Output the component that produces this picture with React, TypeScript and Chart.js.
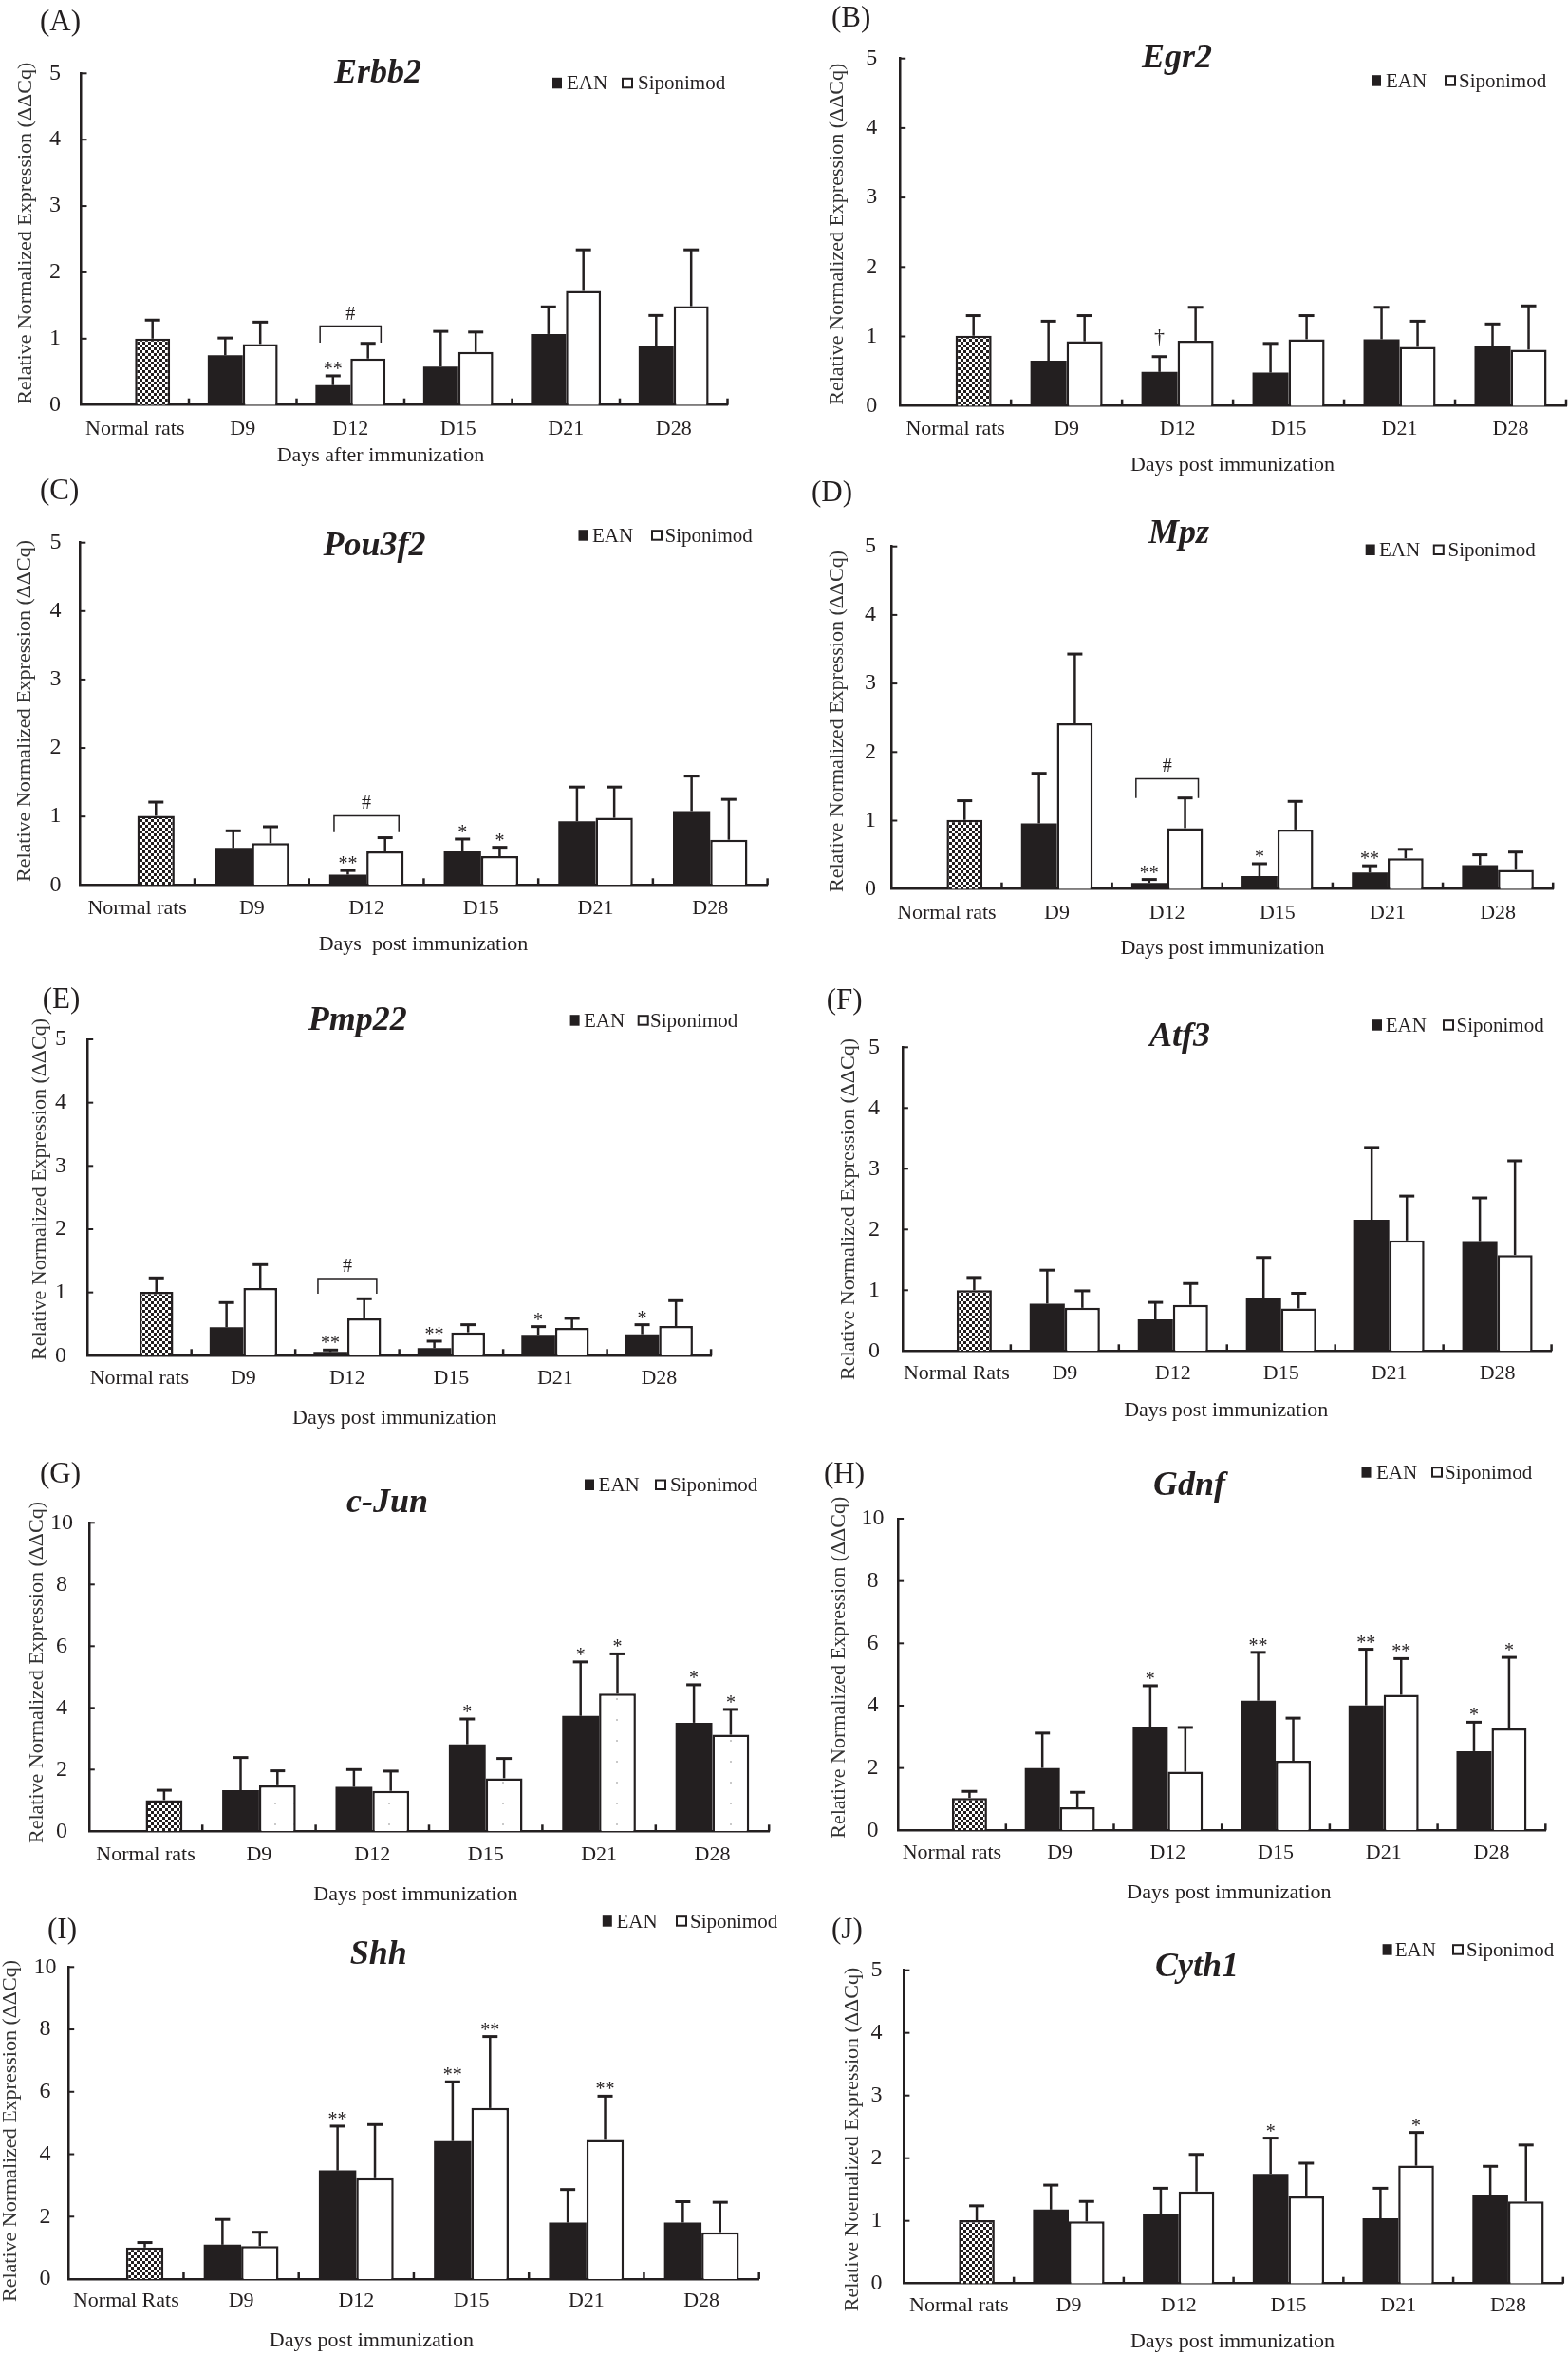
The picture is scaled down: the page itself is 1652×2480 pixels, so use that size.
import React, { useEffect, useRef } from 'react';
import { Chart, registerables } from 'chart.js';

Chart.register(...registerables);

const INK = '#231f20';
const SERIF = '"Liberation Serif", "Times New Roman", Times, serif';

const categories = ['Normal rats', 'D9', 'D12', 'D15', 'D21', 'D28'];
const categoriesRats = ['Normal Rats', 'D9', 'D12', 'D15', 'D21', 'D28'];
const seriesNames = ['EAN', 'Siponimod'];
const yTitleStd = 'Relative Normalized Expression (ΔΔCq)';
const yTitleJ = 'Relative Noemalized Expression (ΔΔCq)';

// (A) Erbb2
const erbb2Ean = [null, 0.75, 0.30, 0.58, 1.07, 0.89];
const erbb2EanSd = [null, 0.26, 0.14, 0.53, 0.41, 0.46];
const erbb2Sip = [1.00, 0.92, 0.70, 0.80, 1.72, 1.49];
const erbb2SipSd = [0.28, 0.33, 0.23, 0.30, 0.62, 0.85];
const erbb2EanSig = ['', '', '**', '', '', ''];
const erbb2SipSig = ['', '', '', '', '', ''];

// (B) Egr2
const egr2Ean = [null, 0.65, 0.49, 0.48, 0.96, 0.87];
const egr2EanSd = [null, 0.57, 0.22, 0.42, 0.46, 0.31];
const egr2Sip = [1.01, 0.93, 0.94, 0.96, 0.85, 0.81];
const egr2SipSd = [0.29, 0.37, 0.48, 0.34, 0.37, 0.63];
const egr2EanSig = ['', '', '†', '', '', ''];
const egr2SipSig = ['', '', '', '', '', ''];

// (C) Pou3f2
const pou3f2Ean = [null, 0.54, 0.15, 0.49, 0.93, 1.08];
const pou3f2EanSd = [null, 0.25, 0.06, 0.18, 0.50, 0.51];
const pou3f2Sip = [1.01, 0.61, 0.49, 0.42, 0.98, 0.66];
const pou3f2SipSd = [0.20, 0.24, 0.20, 0.13, 0.45, 0.59];
const pou3f2EanSig = ['', '', '**', '*', '', ''];
const pou3f2SipSig = ['', '', '', '*', '', ''];

// (D) Mpz
const mpzEan = [null, 0.96, 0.09, 0.19, 0.24, 0.35];
const mpzEanSd = [null, 0.73, 0.05, 0.18, 0.10, 0.15];
const mpzSip = [1.01, 2.42, 0.89, 0.87, 0.45, 0.28];
const mpzSipSd = [0.28, 1.01, 0.44, 0.41, 0.13, 0.26];
const mpzEanSig = ['', '', '**', '*', '**', ''];
const mpzSipSig = ['', '', '', '', '', ''];

// (E) Pmp22
const pmp22Ean = [null, 0.45, 0.06, 0.12, 0.33, 0.34];
const pmp22EanSd = [null, 0.39, 0.03, 0.11, 0.13, 0.15];
const pmp22Sip = [1.01, 1.07, 0.59, 0.37, 0.44, 0.47];
const pmp22SipSd = [0.22, 0.37, 0.31, 0.12, 0.15, 0.40];
const pmp22EanSig = ['', '', '**', '**', '*', '*'];
const pmp22SipSig = ['', '', '', '', '', ''];

// (F) Atf3
const atf3Ean = [null, 0.78, 0.52, 0.87, 2.16, 1.81];
const atf3EanSd = [null, 0.55, 0.28, 0.67, 1.19, 0.71];
const atf3Sip = [1.00, 0.71, 0.76, 0.70, 1.82, 1.58];
const atf3SipSd = [0.21, 0.28, 0.35, 0.25, 0.73, 1.55];
const atf3EanSig = ['', '', '', '', '', ''];
const atf3SipSig = ['', '', '', '', '', ''];

// (G) c-Jun
const cjunEan = [null, 1.33, 1.44, 2.82, 3.74, 3.52];
const cjunEanSd = [null, 1.06, 0.56, 0.82, 1.75, 1.23];
const cjunSip = [1.01, 1.49, 1.31, 1.72, 4.46, 3.13];
const cjunSipSd = [0.32, 0.47, 0.64, 0.64, 1.29, 0.82];
const cjunEanSig = ['', '', '', '*', '*', '*'];
const cjunSipSig = ['', '', '', '', '*', '*'];

// (H) Gdnf
const gdnfEan = [null, 2.00, 3.33, 4.16, 4.01, 2.54];
const gdnfEanSd = [null, 1.12, 1.31, 1.55, 1.80, 0.93];
const gdnfSip = [1.04, 0.74, 1.88, 2.23, 4.35, 3.27];
const gdnfSipSd = [0.21, 0.48, 1.42, 1.37, 1.16, 2.28];
const gdnfEanSig = ['', '', '*', '**', '**', '*'];
const gdnfSipSig = ['', '', '', '', '**', '*'];

// (I) Shh
const shhEan = [null, 1.10, 3.48, 4.42, 1.81, 1.81];
const shhEanSd = [null, 0.81, 1.42, 1.90, 1.06, 0.67];
const shhSip = [1.01, 1.06, 3.23, 5.48, 4.46, 1.50];
const shhSipSd = [0.16, 0.44, 1.72, 2.29, 1.40, 0.96];
const shhEanSig = ['', '', '**', '**', '', ''];
const shhSipSig = ['', '', '', '**', '**', ''];

// (J) Cyth1
const cyth1Ean = [null, 1.18, 1.11, 1.75, 1.04, 1.41];
const cyth1EanSd = [null, 0.39, 0.41, 0.57, 0.48, 0.46];
const cyth1Sip = [1.01, 0.99, 1.47, 1.39, 1.88, 1.31];
const cyth1SipSd = [0.23, 0.32, 0.59, 0.53, 0.53, 0.90];
const cyth1EanSig = ['', '', '', '*', '', ''];
const cyth1SipSig = ['', '', '', '', '*', ''];

// "#" brackets between EAN and Siponimod (category index, bracket line value, leg end value)
const erbb2Bracket = { cat: 2, line: 1.19, leg: 0.94, text: '#' };
const pou3f2Bracket = { cat: 2, line: 1.01, leg: 0.77, text: '#' };
const mpzBracket = { cat: 2, line: 1.61, leg: 1.33, text: '#' };
const pmp22Bracket = { cat: 2, line: 1.22, leg: 0.98, text: '#' };

type Bracket = { cat: number; line: number; leg: number; text: string };
type PanelSpec = {
  label: string; gene: string; cats: string[];
  ean: (number | null)[]; eanSd: (number | null)[]; sip: number[]; sipSd: number[];
  eanSig: string[]; sipSig: string[]; bracket?: Bracket;
  ymax: number; step: number; yTitle: string; xTitle: string; dotted?: boolean;
  box: number[]; axisX: number; right: number; top: number; zero: number;
  labelPos: number[]; titlePos: number[]; leg: number[]; legY: number;
  xTickY: number; xTitlePos: number[]; yTitlePos: number[]; tickOff: number;
};

const panels: PanelSpec[] = [
  {
    label: '(A)', gene: 'Erbb2', cats: categories, ean: erbb2Ean, eanSd: erbb2EanSd, sip: erbb2Sip, sipSd: erbb2SipSd,
    eanSig: erbb2EanSig, sipSig: erbb2SipSig, bracket: erbb2Bracket, ymax: 5, step: 1, yTitle: yTitleStd,
    xTitle: 'Days after immunization',
    box: [0, 0, 826, 494], axisX: 85.5, right: 766.5, top: 77.3, zero: 426.7,
    labelPos: [42, 31.7], titlePos: [398, 86.7], leg: [582, 597, 655, 672], legY: 94.3,
    xTickY: 459.3, xTitlePos: [401, 486], yTitlePos: [27.5, 245.8], tickOff: 27.4,
  },
  {
    label: '(B)', gene: 'Egr2', cats: categories, ean: egr2Ean, eanSd: egr2EanSd, sip: egr2Sip, sipSd: egr2SipSd,
    eanSig: egr2EanSig, sipSig: egr2SipSig, ymax: 5, step: 1, yTitle: yTitleStd,
    xTitle: 'Days post immunization',
    box: [826, 0, 826, 503], axisX: 948.2, right: 1650, top: 61.7, zero: 427.7,
    labelPos: [876, 28.3], titlePos: [1240, 70.7], leg: [1445, 1460, 1522, 1537], legY: 91.7,
    xTickY: 460, xTitlePos: [1298.5, 496], yTitlePos: [882.4, 246.7], tickOff: 30,
  },
  {
    label: '(C)', gene: 'Pou3f2', cats: categories, ean: pou3f2Ean, eanSd: pou3f2EanSd, sip: pou3f2Sip, sipSd: pou3f2SipSd,
    eanSig: pou3f2EanSig, sipSig: pou3f2SipSig, bracket: pou3f2Bracket, ymax: 5, step: 1, yTitle: yTitleStd,
    xTitle: 'Days  post immunization',
    box: [0, 494, 826, 526], axisX: 84.3, right: 808.6, top: 571.7, zero: 932.3,
    labelPos: [42, 526], titlePos: [394.6, 585], leg: [609.5, 624, 686, 700.6], legY: 570.7,
    xTickY: 965, xTitlePos: [446, 1001], yTitlePos: [26.3, 749], tickOff: 25.8,
  },
  {
    label: '(D)', gene: 'Mpz', cats: categories, ean: mpzEan, eanSd: mpzEanSd, sip: mpzSip, sipSd: mpzSipSd,
    eanSig: mpzEanSig, sipSig: mpzSipSig, bracket: mpzBracket, ymax: 5, step: 1, yTitle: yTitleStd,
    xTitle: 'Days post immunization',
    box: [826, 503, 826, 517], axisX: 939.3, right: 1636.2, top: 575.7, zero: 936.7,
    labelPos: [855, 528], titlePos: [1242, 571.7], leg: [1438.7, 1453, 1509.8, 1525.6], legY: 586,
    xTickY: 969.3, xTitlePos: [1288, 1005], yTitlePos: [882.4, 760], tickOff: 22.3,
  },
  {
    label: '(E)', gene: 'Pmp22', cats: categories, ean: pmp22Ean, eanSd: pmp22EanSd, sip: pmp22Sip, sipSd: pmp22SipSd,
    eanSig: pmp22EanSig, sipSig: pmp22SipSig, bracket: pmp22Bracket, ymax: 5, step: 1, yTitle: yTitleStd,
    xTitle: 'Days post immunization',
    box: [0, 1020, 826, 495], axisX: 92.2, right: 749.1, top: 1095, zero: 1428.3,
    labelPos: [44.8, 1061.7], titlePos: [376.7, 1085], leg: [600.6, 615, 671.7, 685], legY: 1081.7,
    xTickY: 1460, xTitlePos: [415.6, 1500], yTitlePos: [42, 1253], tickOff: 28.2,
  },
  {
    label: '(F)', gene: 'Atf3', cats: categoriesRats, ean: atf3Ean, eanSd: atf3EanSd, sip: atf3Sip, sipSd: atf3SipSd,
    eanSig: atf3EanSig, sipSig: atf3SipSig, ymax: 5, step: 1, yTitle: yTitleStd,
    xTitle: 'Days post immunization',
    box: [826, 1020, 826, 495], axisX: 950.9, right: 1634.6, top: 1103.3, zero: 1423.3,
    labelPos: [870.8, 1063], titlePos: [1243, 1101.7], leg: [1446, 1459.7, 1520, 1534.5], legY: 1086.7,
    xTickY: 1455, xTitlePos: [1291.7, 1491.7], yTitlePos: [894.5, 1274], tickOff: 30,
  },
  {
    label: '(G)', gene: 'c-Jun', cats: categories, ean: cjunEan, eanSd: cjunEanSd, sip: cjunSip, sipSd: cjunSipSd,
    eanSig: cjunEanSig, sipSig: cjunSipSig, ymax: 10, step: 2, yTitle: yTitleStd, dotted: true,
    xTitle: 'Days post immunization',
    box: [0, 1515, 826, 495], axisX: 93.8, right: 810.2, top: 1604.3, zero: 1929.3,
    labelPos: [42, 1561.7], titlePos: [408, 1593.3], leg: [616, 630.6, 690, 706], legY: 1571,
    xTickY: 1961.7, xTitlePos: [437.9, 2001.7], yTitlePos: [39.5, 1762], tickOff: 28.8,
  },
  {
    label: '(H)', gene: 'Gdnf', cats: categories, ean: gdnfEan, eanSd: gdnfEanSd, sip: gdnfSip, sipSd: gdnfSipSd,
    eanSig: gdnfEanSig, sipSig: gdnfSipSig, ymax: 10, step: 2, yTitle: yTitleStd,
    xTitle: 'Days post immunization',
    box: [826, 1515, 826, 495], axisX: 946.1, right: 1628.3, top: 1600, zero: 1928.3,
    labelPos: [868, 1561.7], titlePos: [1253, 1575], leg: [1434.5, 1450, 1508, 1522], legY: 1557.7,
    xTickY: 1960, xTitlePos: [1294.9, 2000], yTitlePos: [884, 1756.7], tickOff: 26.6,
  },
  {
    label: '(I)', gene: 'Shh', cats: categoriesRats, ean: shhEan, eanSd: shhEanSd, sip: shhSip, sipSd: shhSipSd,
    eanSig: shhEanSig, sipSig: shhSipSig, ymax: 10, step: 2, yTitle: yTitleStd,
    xTitle: 'Days post immunization',
    box: [0, 2010, 826, 470], axisX: 72.2, right: 799.7, top: 2072.3, zero: 2401,
    labelPos: [50, 2041.7], titlePos: [398.8, 2069.3], leg: [634.8, 649.5, 712, 727], legY: 2030.7,
    xTickY: 2431.7, xTitlePos: [391.4, 2471.7], yTitlePos: [11.6, 2245], tickOff: 24.8,
  },
  {
    label: '(J)', gene: 'Cyth1', cats: categories, ean: cyth1Ean, eanSd: cyth1EanSd, sip: cyth1Sip, sipSd: cyth1SipSd,
    eanSig: cyth1EanSig, sipSig: cyth1SipSig, ymax: 5, step: 1, yTitle: yTitleJ,
    xTitle: 'Days post immunization',
    box: [826, 2010, 826, 470], axisX: 952.4, right: 1646.8, top: 2075.7, zero: 2405.7,
    labelPos: [876, 2041.7], titlePos: [1261, 2081.7], leg: [1456.6, 1469.7, 1530, 1545], legY: 2060.7,
    xTickY: 2436.7, xTitlePos: [1298.5, 2473.3], yTitlePos: [898, 2254], tickOff: 29,
  },
];

function makeChecker(ctx: CanvasRenderingContext2D) {
  const t = document.createElement('canvas');
  t.width = 6; t.height = 6;
  const g = t.getContext('2d')!;
  g.fillStyle = '#ffffff'; g.fillRect(0, 0, 6, 6);
  g.fillStyle = INK; g.fillRect(0, 0, 3, 3); g.fillRect(3, 3, 3, 3);
  return ctx.createPattern(t, 'repeat');
}

function makeDots(ctx: CanvasRenderingContext2D) {
  const t = document.createElement('canvas');
  t.width = 20; t.height = 22;
  const g = t.getContext('2d')!;
  g.fillStyle = '#ffffff'; g.fillRect(0, 0, 20, 22);
  g.fillStyle = '#c9c9c9'; g.fillRect(9, 10, 2, 2);
  return ctx.createPattern(t, 'repeat');
}

function PanelChart({ p }: { p: PanelSpec }) {
  const ref = useRef<HTMLCanvasElement>(null);
  const [bx, by, bw, bh] = p.box;

  useEffect(() => {
    const canvas = ref.current!;
    const c2d = canvas.getContext('2d')!;
    const checker = makeChecker(c2d);
    const dots = makeDots(c2d);
    const sipFill = p.sip.map((_, i) => (i === 0 ? checker : p.dotted ? dots : '#ffffff'));

    const L = p.axisX - bx;
    const R = p.right - bx;
    const T = p.top - by;
    const B = p.zero - by;
    const yw = 40;
    const xh = 40;
    const widestHalf = p.ymax >= 10 ? 12 : 6;

    const overlay = {
      id: 'overlay',
      afterDatasetsDraw(chart: any) {
        const ctx: CanvasRenderingContext2D = chart.ctx;
        const ys = chart.scales.y;
        const xs = chart.scales.x;
        const ca = chart.chartArea;
        ctx.save();
        ctx.strokeStyle = INK;
        ctx.fillStyle = INK;
        ctx.lineCap = 'butt';

        // inward tick marks
        ctx.lineWidth = 2;
        ys.ticks.forEach((t: any) => {
          if (t.value === 0) return;
          const y = ys.getPixelForValue(t.value);
          ctx.beginPath(); ctx.moveTo(ca.left, y); ctx.lineTo(ca.left + 6, y); ctx.stroke();
        });
        const cw = (ca.right - ca.left) / p.cats.length;
        ctx.lineWidth = 2.5;
        for (let i = 1; i <= p.cats.length; i++) {
          const x = ca.left + i * cw;
          ctx.beginPath(); ctx.moveTo(x, ca.bottom); ctx.lineTo(x, ca.bottom - 7); ctx.stroke();
        }

        // error bars + significance
        const sets = [
          { vals: p.ean, sds: p.eanSd, sig: p.eanSig },
          { vals: p.sip, sds: p.sipSd, sig: p.sipSig },
        ];
        sets.forEach((s, d) => {
          const meta = chart.getDatasetMeta(d);
          meta.data.forEach((bar: any, i: number) => {
            const v = s.vals[i];
            const sd = s.sds[i];
            if (v == null || sd == null) return;
            const x = bar.x;
            const yTop = ys.getPixelForValue(v);
            const yErr = ys.getPixelForValue(v + sd);
            ctx.lineWidth = 2.5;
            ctx.beginPath(); ctx.moveTo(x, yTop); ctx.lineTo(x, yErr); ctx.stroke();
            ctx.lineWidth = 3;
            ctx.beginPath(); ctx.moveTo(x - 8, yErr); ctx.lineTo(x + 8, yErr); ctx.stroke();
            const mark = s.sig[i];
            if (mark) {
              ctx.textAlign = 'center';
              ctx.textBaseline = 'alphabetic';
              if (mark === '†') {
                ctx.font = `22px ${SERIF}`;
                ctx.fillText(mark, x, yErr - 15);
              } else {
                ctx.font = `20px ${SERIF}`;
                ctx.fillText(mark, x, yErr - 1);
              }
            }
          });
        });

        // bracket
        if (p.bracket) {
          const b = p.bracket;
          const barW = chart.getDatasetMeta(0).data[b.cat].width;
          const cx = xs.getPixelForValue(b.cat);
          const half = barW * 0.87;
          const yl = ys.getPixelForValue(b.line);
          const yg = ys.getPixelForValue(b.leg);
          ctx.lineWidth = 1.5;
          ctx.beginPath();
          ctx.moveTo(cx - half, yg); ctx.lineTo(cx - half, yl);
          ctx.lineTo(cx + half, yl); ctx.lineTo(cx + half, yg);
          ctx.stroke();
          ctx.font = `20px ${SERIF}`;
          ctx.textAlign = 'center';
          ctx.textBaseline = 'alphabetic';
          ctx.fillText(b.text, cx, yl - 7);
        }
        ctx.restore();
      },
      afterDraw(chart: any) {
        const ctx: CanvasRenderingContext2D = chart.ctx;
        ctx.save();
        ctx.fillStyle = INK;
        ctx.strokeStyle = INK;
        ctx.textBaseline = 'alphabetic';
        // panel label
        ctx.font = `31px ${SERIF}`;
        ctx.textAlign = 'left';
        ctx.fillText(p.label, p.labelPos[0] - bx, p.labelPos[1] - by);
        // gene title
        ctx.font = `italic bold 36px ${SERIF}`;
        ctx.textAlign = 'center';
        ctx.fillText(p.gene, p.titlePos[0] - bx, p.titlePos[1] - by);
        // legend
        const ly = p.legY - by;
        ctx.fillRect(p.leg[0] - bx, ly - 12.5, 10, 11.5);
        ctx.lineWidth = 2;
        ctx.strokeRect(p.leg[2] - bx + 1, ly - 11.5, 10, 9.5);
        ctx.font = `21px ${SERIF}`;
        ctx.textAlign = 'left';
        ctx.fillText(seriesNames[0], p.leg[1] - bx, ly);
        ctx.fillText(seriesNames[1], p.leg[3] - bx, ly);
        // x title
        ctx.font = `22px ${SERIF}`;
        ctx.textAlign = 'center';
        ctx.fillText(p.xTitle, p.xTitlePos[0] - bx, p.xTitlePos[1] - by);
        // y title
        ctx.translate(p.yTitlePos[0] - bx, p.yTitlePos[1] - by);
        ctx.rotate(-Math.PI / 2);
        ctx.fillStyle = '#333333';
        ctx.textBaseline = 'middle';
        ctx.fillText(p.yTitle, 0, 0);
        ctx.restore();
      },
    };

    const chart = new Chart(canvas, {
      type: 'bar',
      data: {
        labels: p.cats,
        datasets: [
          {
            label: seriesNames[0],
            data: p.ean as any,
            backgroundColor: INK,
            borderWidth: 0,
          },
          {
            label: seriesNames[1],
            data: p.sip,
            backgroundColor: sipFill as any,
            borderColor: INK,
            borderWidth: 2.5,
          },
        ],
      },
      options: {
        responsive: false,
        animation: false,
        devicePixelRatio: 1,
        datasets: { bar: { categoryPercentage: 0.65, barPercentage: 1.0 } },
        layout: { padding: { left: L - yw, right: bw - R, top: T, bottom: bh - B - xh } },
        plugins: { legend: { display: false }, tooltip: { enabled: false }, title: { display: false } },
        scales: {
          x: {
            type: 'category',
            offset: true,
            grid: { display: false, drawTicks: false },
            border: { display: true, color: INK, width: 2.5 },
            ticks: {
              color: INK,
              font: { family: SERIF, size: 22 },
              padding: p.xTickY - p.zero - 20.6,
              maxRotation: 0,
              autoSkip: false,
            },
            afterFit: (s: any) => { s.height = xh; },
          },
          y: {
            min: 0,
            max: p.ymax,
            grid: { display: false, drawTicks: false },
            border: { display: true, color: INK, width: 2.5 },
            ticks: {
              stepSize: p.step,
              color: INK,
              font: { family: SERIF, size: 24 },
              padding: p.tickOff - widestHalf,
              crossAlign: 'center',
            },
            afterFit: (s: any) => { s.width = yw; },
          },
        },
      } as any,
      plugins: [overlay],
    });
    return () => chart.destroy();
  }, [p]);

  return (
    <canvas
      ref={ref}
      width={bw}
      height={bh}
      style={{ position: 'absolute', left: bx, top: by, width: bw, height: bh }}
    />
  );
}

export default function App() {
  return (
    <div style={{ position: 'absolute', left: 0, top: 0, width: 1652, height: 2480, background: '#ffffff' }}>
      {panels.map((p) => (
        <PanelChart key={p.label} p={p} />
      ))}
    </div>
  );
}
